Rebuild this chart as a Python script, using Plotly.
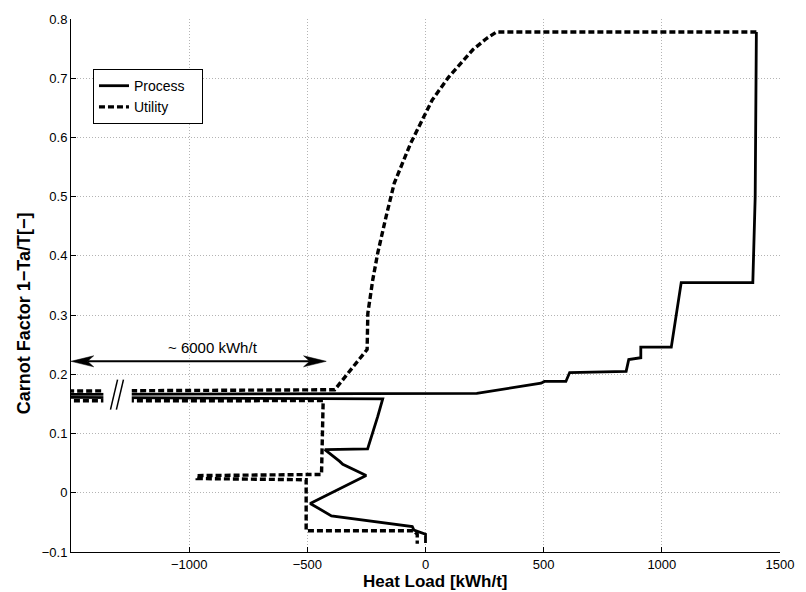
import plotly.graph_objects as go

# Process composite curve (heat load kWh/t vs Carnot factor)
process_q = [1400, 1395, 1385, 1082, 1040, 911, 911, 860, 849, 610, 594, 503, 489, 217,
             -1600, -1600, -181, -202, -245, -426, -363, -350, -251, -488, -398, -56, -49, 0, 0]
process_c = [0.778, 0.50, 0.355, 0.355, 0.246, 0.246, 0.228, 0.225, 0.205, 0.203, 0.188, 0.188, 0.185, 0.168,
             0.1662, 0.1612, 0.1585, 0.129, 0.074, 0.073, 0.053, 0.048, 0.029, -0.018, -0.039, -0.057, -0.063, -0.070, -0.085]

# Utility curve
utility_q = [1400, 300, 258, 200, 98, 28, -63, -132, -167, -202, -223, -244, -247, -384,
             -1600, -1600, -433, -440, -966, -966, -505, -505, -50, -35, -35]
utility_c = [0.778, 0.778, 0.767, 0.748, 0.702, 0.663, 0.590, 0.523, 0.466, 0.405, 0.360, 0.303, 0.242, 0.174,
             0.1716, 0.1553, 0.1556, 0.031, 0.029, 0.024, 0.022, -0.064, -0.064, -0.070, -0.086]

x_ticks = [-1000, -500, 0, 500, 1000, 1500]
x_labels = ["\u22121000", "\u2212500", "0", "500", "1000", "1500"]
y_ticks = [-0.1, 0, 0.1, 0.2, 0.3, 0.4, 0.5, 0.6, 0.7, 0.8]
y_labels = ["\u22120.1", "0", "0.1", "0.2", "0.3", "0.4", "0.5", "0.6", "0.7", "0.8"]

# Span marker: heat load that lies beyond the axis break
span_from, span_to, span_level = -1500, -420, 0.222
span_label = "~ 6000 kWh/t"

FONT = "Liberation Sans, Arial, Helvetica, sans-serif"
PAD = "\u00a0\u00a0\u00a0"

fig = go.Figure()
fig.add_trace(go.Scatter(x=process_q, y=process_c, mode="lines", name="Process" + PAD,
                         line=dict(color="black", width=2.8)))
fig.add_trace(go.Scatter(x=utility_q, y=utility_c, mode="lines", name="Utility" + PAD,
                         line=dict(color="black", width=3.4, dash="6px,3px")))

# Axis break on the long horizontal band
fig.add_shape(type="rect", x0=-1363, x1=-1243, y0=0.146, y1=0.180,
              fillcolor="white", line=dict(width=0), layer="above")
for x_bot, x_top in [(-1333, -1303), (-1308, -1278)]:
    fig.add_shape(type="line", x0=x_bot, y0=0.1405, x1=x_top, y1=0.191,
                  line=dict(color="black", width=1.5), layer="above")

# Double-headed span arrow (shaft + swept heads)
head_len, head_notch, head_half = 96, 70, 0.0093
fig.add_shape(type="line", x0=span_from + head_notch, x1=span_to - head_notch,
              y0=span_level, y1=span_level, line=dict(color="black", width=2), layer="above")
for tip, d in [(span_to, 1), (span_from, -1)]:
    path = (f"M {tip},{span_level} "
            f"L {tip - d * head_len},{span_level + head_half} "
            f"L {tip - d * head_notch},{span_level} "
            f"L {tip - d * head_len},{span_level - head_half} Z")
    fig.add_shape(type="path", path=path, fillcolor="black",
                  line=dict(color="black", width=0.5), layer="above")
fig.add_annotation(x=(span_from + span_to) / 2 + 60, y=0.246, xref="x", yref="y", text=span_label,
                   showarrow=False, font=dict(size=15, color="black", family=FONT))

# Axis titles
fig.add_annotation(x=0.514, y=-0.056, xref="paper", yref="paper", text="<b>Heat Load [kWh/t]</b>",
                   showarrow=False, xanchor="center", yanchor="middle",
                   font=dict(size=17, color="black", family=FONT))
fig.add_annotation(x=-0.067, y=0.449, xref="paper", yref="paper",
                   text="<b>Carnot Factor 1\u2212Ta/T[\u2212]</b>", textangle=-90,
                   showarrow=False, xanchor="center", yanchor="middle",
                   font=dict(size=18, color="black", family=FONT))

axis_common = dict(showline=True, linecolor="black", linewidth=1, mirror=False,
                   ticks="inside", ticklen=5, tickcolor="black",
                   showgrid=True, gridcolor="#b4b4b4", griddash="1px,2px", gridwidth=1,
                   zeroline=False, tickfont=dict(size=13, color="black", family=FONT))

fig.update_xaxes(range=[-1500, 1500], tickvals=x_ticks, ticktext=x_labels, **axis_common)
fig.update_yaxes(range=[-0.1, 0.8], tickvals=y_ticks, ticktext=y_labels, **axis_common)

fig.update_layout(
    width=806, height=592,
    margin=dict(l=71, r=16, t=18, b=40),
    paper_bgcolor="white", plot_bgcolor="white",
    font=dict(family=FONT, color="black"),
    legend=dict(x=0.031, y=0.906, xanchor="left", yanchor="top",
                bgcolor="white", bordercolor="black", borderwidth=1,
                font=dict(size=14, family=FONT, color="black"),
                itemwidth=30, tracegroupgap=0),
    showlegend=True,
)

fig.write_html("out.html")
